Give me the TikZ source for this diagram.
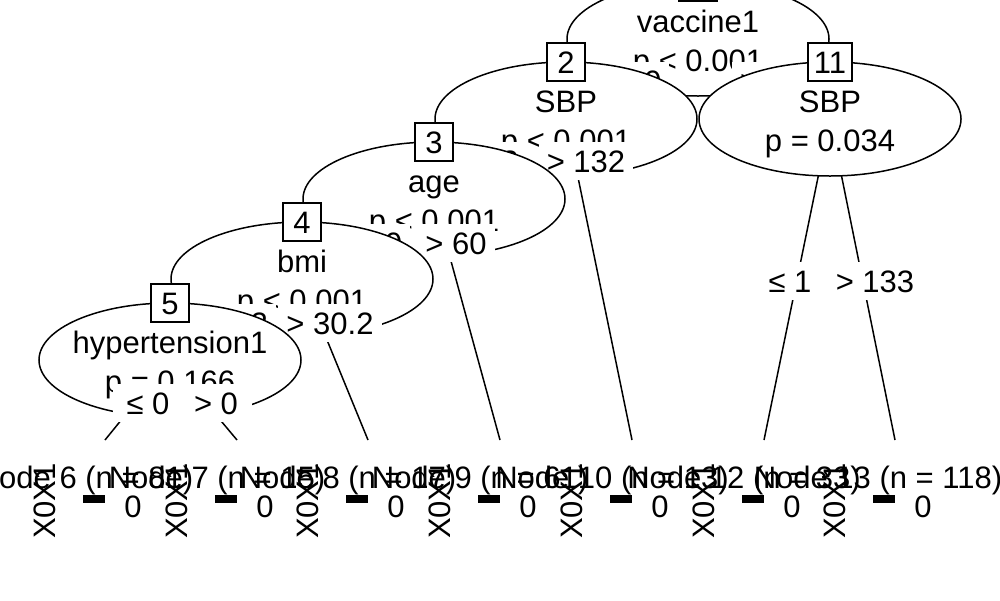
\documentclass[tikz,border=0pt]{standalone}
\usepackage{fontspec}
\setmainfont{Liberation Sans}
\usetikzlibrary{shapes.geometric}

\begin{document}
\begin{tikzpicture}
        [x=1pt, y=-1pt,
            every node/.style={inner sep=0pt, font=\fontsize{31}{37}\selectfont},
            splitnode/.style={draw, ellipse, fill=white, line width=1.5pt, minimum width=262pt, minimum height=114pt},
            idbox/.style={draw, rectangle, fill=white, line width=1.5pt, minimum width=38pt, minimum height=38pt, text height=22pt, text depth=0pt},
            lab/.style={fill=white, inner xsep=8pt, inner ysep=8pt, text height=22pt, text depth=0pt},
            link/.style={line width=1.5pt},
            leafbar/.style={fill=black, minimum width=22pt, minimum height=8pt}
        ]
        \useasboundingbox (0,0) rectangle (1000,600);
        \clip (0,0) rectangle (1000,600);
        % centres of the ellipses, id boxes and the tops of the terminal panels
        \coordinate (c1) at (698,39);
        \coordinate (c2) at (566,119);
        \coordinate (c3) at (434,199);
        \coordinate (c4) at (302,279);
        \coordinate (c5) at (170,360);
        \coordinate (c11) at (830,119);
        \coordinate (k2) at (566,62);
        \coordinate (k3) at (434,142);
        \coordinate (k4) at (302,222);
        \coordinate (k5) at (170,303);
        \coordinate (k11) at (830,62);
        \coordinate (t6) at (105,440);
        \coordinate (t7) at (237,440);
        \coordinate (t8) at (368,440);
        \coordinate (t9) at (500,440);
        \coordinate (t10) at (632,440);
        \coordinate (t12) at (764,440);
        \coordinate (t13) at (895,440);

        % node 1
        \draw[link] (c1) -- (k2);
        \draw[link] (c1) -- (k11);
        \node[splitnode] (n1) at (c1) {};
        \node[anchor=base] (n1var) at (698,32) {vaccine1};
        \node[anchor=base] (n1p) at (698,71) {p < 0.001};
        \node[idbox] (b1) at (698,-18) {1};
        \node[lab] (l1a) at (640,81) {≤ 0};
        \node[lab] (l1b) at (762,81) {> 0};

        % node 2
        \draw[link] (c2) -- (k3);
        \draw[link] (c2) -- (t10);
        \node[splitnode] (n2) at (c2) {};
        \node[anchor=base] (n2var) at (566,112) {SBP};
        \node[anchor=base] (n2p) at (566,151) {p < 0.001};
        \node[idbox] (b2) at (k2) {2};
        \node[lab] (l2a) at (480,161) {≤ 132};
        \node[lab] (l2b) at (586,161) {> 132};

        % node 3
        \draw[link] (c3) -- (k4);
        \draw[link] (c3) -- (t9);
        \node[splitnode] (n3) at (c3) {};
        \node[anchor=base] (n3var) at (434,192) {age};
        \node[anchor=base] (n3p) at (434,231) {p < 0.001};
        \node[idbox] (b3) at (k3) {3};
        \node[lab] (l3a) at (372,243) {≤ 60};
        \node[lab] (l3b) at (456,243) {> 60};

        % node 4
        \draw[link] (c4) -- (k5);
        \draw[link] (c4) -- (t8);
        \node[splitnode] (n4) at (c4) {};
        \node[anchor=base] (n4var) at (302,272) {bmi};
        \node[anchor=base] (n4p) at (302,311) {p < 0.001};
        \node[idbox] (b4) at (k4) {4};
        \node[lab] (l4a) at (225,323) {≤ 30.2};
        \node[lab] (l4b) at (330,323) {> 30.2};

        % node 5
        \draw[link] (c5) -- (t6);
        \draw[link] (c5) -- (t7);
        \node[splitnode] (n5) at (c5) {};
        \node[anchor=base] (n5var) at (170,353) {hypertension1};
        \node[anchor=base] (n5p) at (170,392) {p = 0.166};
        \node[idbox] (b5) at (k5) {5};
        \node[lab, inner xsep=14pt] (l5a) at (148,403) {≤ 0};
        \node[lab, inner xsep=14pt] (l5b) at (216,403) {> 0};

        % node 11
        \draw[link] (c11) -- (t12);
        \draw[link] (c11) -- (t13);
        \node[splitnode] (n11) at (c11) {};
        \node[anchor=base] (n11var) at (830,112) {SBP};
        \node[anchor=base] (n11p) at (830,151) {p = 0.034};
        \node[idbox, minimum width=44pt] (b11) at (k11) {11};
        \node[lab] (l11a) at (790,281) {≤ 1};
        \node[lab] (l11b) at (875,281) {> 133};

        % terminal panels
        \node[anchor=base] (leaf6) at (85,488) {Node 6 (n = 81)};
        \node[rotate=90] (lev6) at (45,501) {X0X1};
        \node[leafbar] (bar6) at (94,499) {};
        \node[anchor=base] (tick6) at (133,517) {0};

        \node[anchor=base] (leaf7) at (217,488) {Node 7 (n = 15)};
        \node[rotate=90] (lev7) at (177,501) {X0X1};
        \node[leafbar] (bar7) at (226,499) {};
        \node[anchor=base] (tick7) at (265,517) {0};

        \node[anchor=base] (leaf8) at (348,488) {Node 8 (n = 17)};
        \node[rotate=90] (lev8) at (308,501) {X0X1};
        \node[leafbar] (bar8) at (357,499) {};
        \node[anchor=base] (tick8) at (396,517) {0};

        \node[anchor=base] (leaf9) at (480,488) {Node 9 (n = 61)};
        \node[rotate=90] (lev9) at (440,501) {X0X1};
        \node[leafbar] (bar9) at (489,499) {};
        \node[anchor=base] (tick9) at (528,517) {0};

        \node[anchor=base] (leaf10) at (612,488) {Node 10 (n = 13)};
        \node[rotate=90] (lev10) at (572,501) {X0X1};
        \node[leafbar] (bar10) at (621,499) {};
        \node[anchor=base] (tick10) at (660,517) {0};

        \node[anchor=base] (leaf12) at (744,488) {Node 12 (n = 33)};
        \node[rotate=90] (lev12) at (704,501) {X0X1};
        \node[leafbar] (bar12) at (753,499) {};
        \node[anchor=base] (tick12) at (792,517) {0};

        \node[anchor=base] (leaf13) at (878,488) {Node 13 (n = 118)};
        \node[rotate=90] (lev13) at (835,501) {X0X1};
        \node[leafbar] (bar13) at (884,499) {};
        \node[anchor=base] (tick13) at (923,517) {0};
    \end{tikzpicture}
\end{document}
